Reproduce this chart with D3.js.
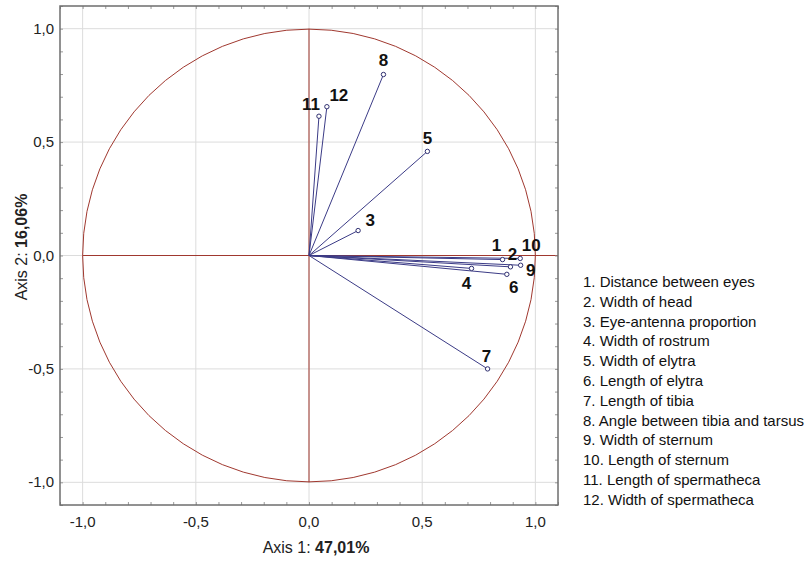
<!DOCTYPE html>
<html>
<head>
<meta charset="utf-8">
<script src="https://cdn.jsdelivr.net/npm/d3@7"></script>
<style>
  body { margin: 0; background: #fff; }
  svg { font-family: Arial, "Liberation Sans", sans-serif; }
</style>
</head>
<body>
<svg id="chart" width="811" height="561"></svg>
<script>
// Variable loadings on the first two axes
const varIds = ["1", "2", "3", "4", "5", "6", "7", "8", "9", "10", "11", "12"];
const axis1 = [0.855, 0.89, 0.217, 0.718, 0.523, 0.874, 0.789, 0.329, 0.935, 0.933, 0.044, 0.079];
const axis2 = [-0.018, -0.05, 0.110, -0.057, 0.459, -0.083, -0.50, 0.798, -0.043, -0.013, 0.614, 0.656];
const varNames = [
  "Distance between eyes", "Width of head", "Eye-antenna proportion", "Width of rostrum",
  "Width of elytra", "Length of elytra", "Length of tibia", "Angle between tibia and tarsus",
  "Width of sternum", "Length of sternum", "Length of spermatheca", "Width of spermatheca"
];
const tickValues = [-1, -0.5, 0, 0.5, 1];
const axis1Label = ["Axis 1: ", "47,01%"];
const axis2Label = ["Axis 2: ", "16,06%"];

// label placement around each point (pixels)
const labelOffset = {
  "1": [-6, -9], "2": [2, -7], "3": [12, -5], "4": [-5, 21], "5": [0, -7], "6": [7, 19],
  "7": [-1, -7], "8": [0, -8], "9": [10, 11], "10": [11, -7], "11": [-8, -6], "12": [12, -6]
};

const svg = d3.select("#chart");
const x = d3.scaleLinear().domain([-1.1, 1.1]).range([60, 558]);
const y = d3.scaleLinear().domain([-1.1, 1.1]).range([505, 6]);
const fmt = d => d3.format(".1f")(d).replace(".", ",").replace("−", "-");

// grid
svg.append("g").selectAll("line").data(tickValues).join("line")
  .attr("x1", d => x(d)).attr("x2", d => x(d)).attr("y1", y(1.1)).attr("y2", y(-1.1))
  .attr("stroke", "#dcdcdc");
svg.append("g").selectAll("line").data(tickValues).join("line")
  .attr("y1", d => y(d)).attr("y2", d => y(d)).attr("x1", x(-1.1)).attr("x2", x(1.1))
  .attr("stroke", "#dcdcdc");

// unit circle and centre lines
const red = "#a0382f";
svg.append("circle").attr("cx", x(0)).attr("cy", y(0)).attr("r", x(1) - x(0))
  .attr("fill", "none").attr("stroke", red).attr("stroke-width", 1);
svg.append("line").attr("x1", x(-1)).attr("x2", x(1.1)).attr("y1", y(0)).attr("y2", y(0))
  .attr("stroke", red);
svg.append("line").attr("x1", x(0)).attr("x2", x(0)).attr("y1", y(1)).attr("y2", y(-1))
  .attr("stroke", red);

// frame ticks on every side, inward
const minor = d3.range(-11, 12).map(i => i / 10);
const tickG = svg.append("g");
tickG.append("g").attr("transform", `translate(0,${y(-1.1)})`)
  .call(d3.axisTop(x).tickValues(minor).tickSize(3).tickFormat(""));
tickG.append("g").attr("transform", `translate(0,${y(1.1)})`)
  .call(d3.axisBottom(x).tickValues(minor).tickSize(3).tickFormat(""));
tickG.append("g").attr("transform", `translate(${x(-1.1)},0)`)
  .call(d3.axisRight(y).tickValues(minor).tickSize(3).tickFormat(""));
tickG.append("g").attr("transform", `translate(${x(1.1)},0)`)
  .call(d3.axisLeft(y).tickValues(minor).tickSize(3).tickFormat(""));
tickG.selectAll(".domain").remove();
tickG.selectAll("line").attr("stroke", "#999");

// frame
svg.append("rect").attr("x", x(-1.1)).attr("y", y(1.1))
  .attr("width", x(1.1) - x(-1.1)).attr("height", y(-1.1) - y(1.1))
  .attr("fill", "none").attr("stroke", "#6e6e6e").attr("stroke-width", 1.5);

// tick labels
svg.append("g").selectAll("text").data(tickValues).join("text")
  .attr("x", d => x(d)).attr("y", 527).attr("text-anchor", "middle")
  .attr("font-size", 15).attr("fill", "#222").text(fmt);
svg.append("g").selectAll("text").data(tickValues).join("text")
  .attr("x", 54).attr("y", d => y(d) + 5).attr("text-anchor", "end")
  .attr("font-size", 15).attr("fill", "#222").text(fmt);

// vectors
const pts = varIds.map((id, i) => ({ id, a: axis1[i], b: axis2[i] }));
svg.append("g").selectAll("line").data(pts).join("line")
  .attr("x1", x(0)).attr("y1", y(0))
  .attr("x2", d => x(d.a)).attr("y2", d => y(d.b))
  .attr("stroke", "#3b3b86").attr("stroke-width", 1);
svg.append("g").selectAll("circle").data(pts).join("circle")
  .attr("cx", d => x(d.a)).attr("cy", d => y(d.b)).attr("r", 2.2)
  .attr("fill", "#fff").attr("stroke", "#2f2f70").attr("stroke-width", 1);
svg.append("g").selectAll("text").data(pts).join("text")
  .attr("x", d => x(d.a) + labelOffset[d.id][0])
  .attr("y", d => y(d.b) + labelOffset[d.id][1])
  .attr("text-anchor", "middle").attr("font-size", 17).attr("font-weight", "bold")
  .attr("fill", "#111").text(d => d.id);

// axis titles
const t1 = svg.append("text").attr("x", 316).attr("y", 553).attr("text-anchor", "middle")
  .attr("font-size", 16).attr("fill", "#222");
t1.append("tspan").text(axis1Label[0]);
t1.append("tspan").attr("font-weight", "bold").text(axis1Label[1]);
const t2 = svg.append("text").attr("transform", "translate(27,247) rotate(-90)")
  .attr("text-anchor", "middle").attr("font-size", 16).attr("fill", "#222");
t2.append("tspan").text(axis2Label[0]);
t2.append("tspan").attr("font-weight", "bold").text(axis2Label[1]);

// legend
svg.append("g").selectAll("text").data(varNames).join("text")
  .attr("x", 583).attr("y", (d, i) => 287 + i * 19.8)
  .attr("font-size", 15).attr("fill", "#111")
  .text((d, i) => `${i + 1}. ${d}`);
</script>
</body>
</html>
